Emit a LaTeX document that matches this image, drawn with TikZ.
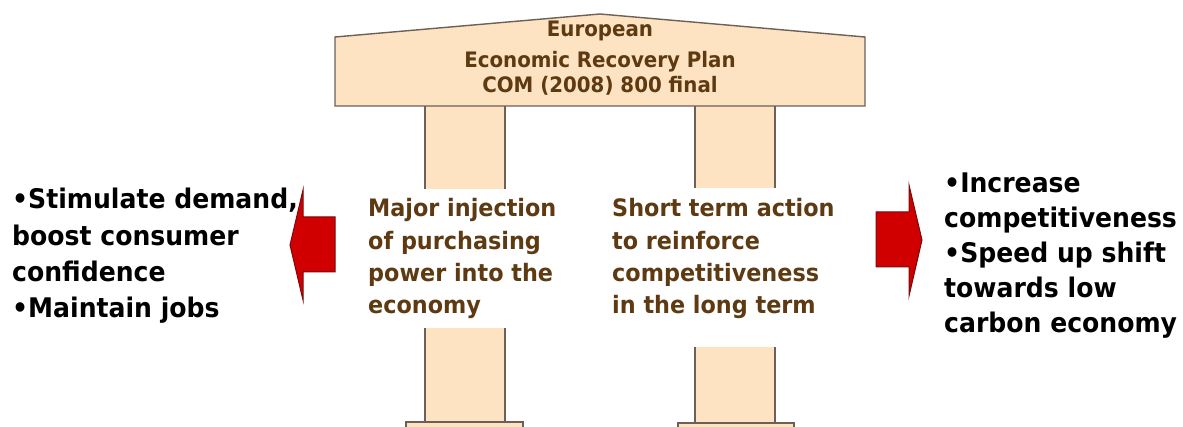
\documentclass[tikz,border=0pt]{standalone}
\usepackage{fontspec}
\setmainfont{DejaVu Sans}[FakeStretch=0.93]
\definecolor{peach}{HTML}{FDE3C1}
\definecolor{rim}{HTML}{6C6058}
\definecolor{bark}{HTML}{5E3A12}
\definecolor{arrowred}{HTML}{D00000}
\definecolor{arrowrim}{HTML}{7A0A0A}
\begin{document}
\begin{tikzpicture}[x=1pt,y=-1pt,
  stone/.style={fill=peach},
  rimline/.style={draw=rim, line width=1.4pt},
  blockarrow/.style={fill=arrowred, draw=arrowrim, line width=1pt, line join=miter},
  pillartext/.style={anchor=base west, inner sep=0pt, text=bark, font=\bfseries\fontsize{24}{32.2}\selectfont},
  sidetext/.style={anchor=base west, inner sep=0pt, text=black, font=\bfseries\fontsize{27}{35}\selectfont},
  rooftext/.style={anchor=base, inner sep=0pt, text=bark, font=\bfseries\fontsize{21.3}{31}\selectfont}]
\useasboundingbox (0,0) rectangle (1183,427);
\clip (0,0) rectangle (1183,427);

% pillar shafts (fill, then the two side edges)
\foreach \xl/\xr/\ya/\yb in {425/505/106/189, 425/505/328/422, 695/775/106/188, 695/775/347/423}{
  \fill[stone] (\xl,\ya) rectangle (\xr,\yb);
  \draw[rimline] (\xl,\ya) -- (\xl,\yb) (\xr,\ya) -- (\xr,\yb);
}
% pillar bases
\filldraw[stone, rimline] (406,440) -- (406,422) -- (523,422) -- (523,440);
\filldraw[stone, rimline] (678,440) -- (678,423) -- (794,423) -- (794,440);

% roof
\filldraw[stone, rimline] (335,106) -- (335,37) -- (600,14) -- (865,37) -- (865,106) -- cycle;
\node[rooftext] (roof) at (600,37) {\begin{tabular}[t]{@{}c@{}}European\\Economic Recovery Plan\\[-6pt]COM (2008) 800 final\end{tabular}};

% pillar inscriptions
\node[pillartext] (leftpillar) at (368,217) {\begin{tabular}[t]{@{}l@{}}Major injection\\of purchasing\\power into the\\economy\end{tabular}};
\node[pillartext] (rightpillar) at (612,217) {\begin{tabular}[t]{@{}l@{}}Short term action\\to reinforce\\competitiveness\\in the long term\end{tabular}};

% block arrows
\draw[blockarrow] (290,245) -- (303,190) -- (303,217) -- (335,217) -- (335,272) -- (303,272) -- (303,300) -- cycle;
\draw[blockarrow] (922,240) -- (909,185) -- (909,212) -- (876,212) -- (876,267) -- (909,267) -- (909,296) -- cycle;

% outcomes
\node[sidetext, font=\bfseries\fontsize{27}{36.3}\selectfont] (demand) at (12,209) {\begin{tabular}[t]{@{}l@{}}•Stimulate demand,\\boost consumer\\confidence\\•Maintain jobs\end{tabular}};
\node[sidetext] (growth) at (944,193) {\begin{tabular}[t]{@{}l@{}}•Increase\\competitiveness\\•Speed up shift\\towards low\\carbon economy\end{tabular}};
\end{tikzpicture}
\end{document}
